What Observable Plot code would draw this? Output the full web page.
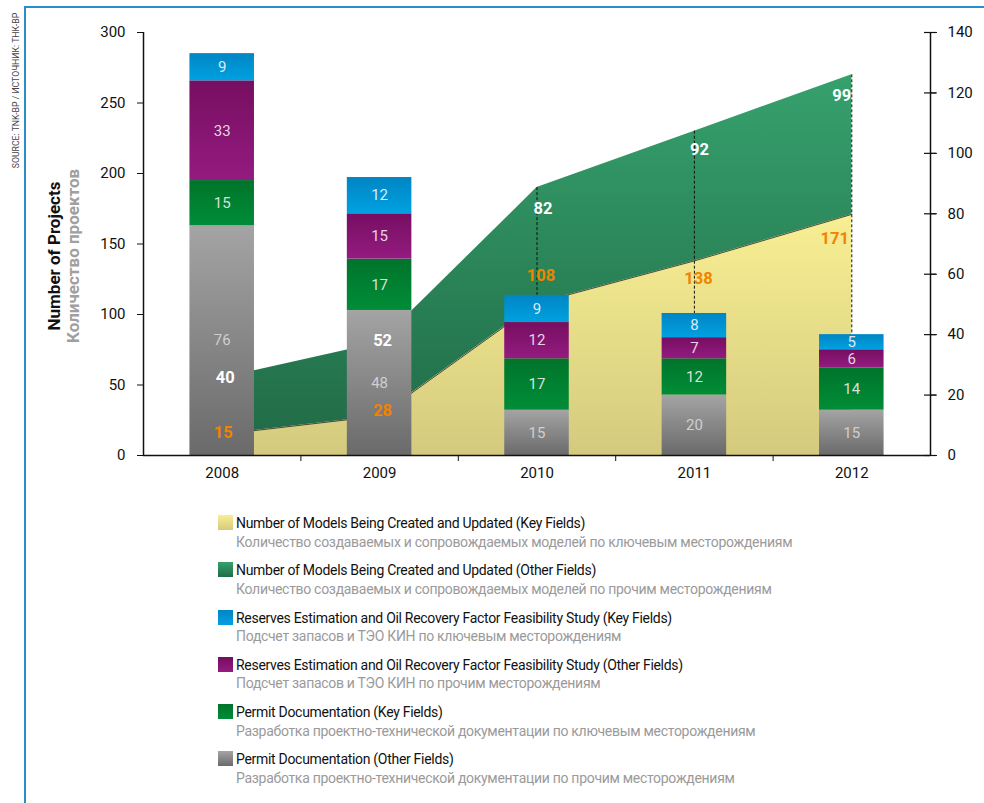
<!DOCTYPE html>
<html><head><meta charset="utf-8">
<script src="https://cdn.jsdelivr.net/npm/d3@7"></script>
<script src="https://cdn.jsdelivr.net/npm/@observablehq/plot@0.6"></script>
<style>
body{margin:0;background:#fff;font-family:Roboto,"Liberation Sans",sans-serif;}
#frame{position:absolute;left:24px;top:6px;right:0;bottom:0;border-left:2px solid #2a8ec8;border-top:2px solid #2a8ec8;}
#chart{position:absolute;left:0;top:0;}
#legend{position:absolute;left:218px;top:514px;}
.item{height:47.3px;position:relative;}
.sw{position:absolute;left:0;top:1px;width:15px;height:15px;}
.t1{position:absolute;left:18px;top:0;font-size:14px;letter-spacing:-0.3px;color:#111;line-height:18px;white-space:nowrap}
.t2{position:absolute;left:18px;top:18.5px;font-size:14px;letter-spacing:-0.3px;color:#9a9a9a;line-height:18px;white-space:nowrap}
</style></head>
<body>
<div id="frame"></div>
<div id="chart"></div>
<div id="legend"></div>
<script>
// ---- data ----
const years = [2008, 2009, 2010, 2011, 2012];
const permitOther   = [76, 48, 15, 20, 15];
const permitKey     = [15, 17, 17, 12, 14];
const reservesOther = [33, 15, 12, 7, 6];
const reservesKey   = [9, 12, 9, 8, 5];
const modelsKey     = [15, 28, 108, 138, 171];
const modelsOther   = [40, 52, 82, 92, 99];
const leftTicks  = [0, 50, 100, 150, 200, 250, 300];
const rightTicks = [0, 20, 40, 60, 80, 100, 120, 140];
const legendEn = [
  "Number of Models Being Created and Updated (Key Fields)",
  "Number of Models Being Created and Updated (Other Fields)",
  "Reserves Estimation and Oil Recovery Factor Feasibility Study (Key Fields)",
  "Reserves Estimation and Oil Recovery Factor Feasibility Study (Other Fields)",
  "Permit Documentation (Key Fields)",
  "Permit Documentation (Other Fields)"
];
const legendRu = [
  "Количество создаваемых и сопровождаемых моделей по ключевым месторождениям",
  "Количество создаваемых и сопровождаемых моделей по прочим месторождениям",
  "Подсчет запасов и ТЭО КИН по ключевым месторождениям",
  "Подсчет запасов и ТЭО КИН по прочим месторождениям",
  "Разработка проектно-технической документации по ключевым месторождениям",
  "Разработка проектно-технической документации по прочим месторождениям"
];
const yTitleEn = "Number of Projects";
const yTitleRu = "Количество проектов";
const sourceText = "SOURCE: TNK-BP / ИСТОЧНИК: ТНК-BP";

// ---- derived ----
const LEFT_MAX = 300, RIGHT_MAX = 140;
const K = LEFT_MAX / RIGHT_MAX; // right-axis units -> left-axis units
const FONT = 'Roboto,"Liberation Sans",sans-serif';
const barSeries = [
  {values: permitOther,   grad: "gGray",   text: "#cfcfcf"},
  {values: permitKey,     grad: "gGreen",  text: "#d8e0d8"},
  {values: reservesOther, grad: "gPurple", text: "#e4d4e2"},
  {values: reservesKey,   grad: "gBlue",   text: "#dcebf4"}
];
const stacked = barSeries.map(s => ({...s, rows: []}));
years.forEach((yr, i) => {
  let acc = 0;
  stacked.forEach(s => {
    const v = s.values[i];
    s.rows.push({year: yr, value: v, y1: acc * K, y2: (acc + v) * K});
    acc += v;
  });
});
const barTotals = years.map((yr, i) => barSeries.reduce((a, s) => a + s.values[i], 0));
const models = years.map((yr, i) => ({
  year: yr, key: modelsKey[i], other: modelsOther[i],
  total: modelsKey[i] + modelsOther[i], barTop: barTotals[i] * K
}));
const xDomain = [years[0] - 0.5, years[years.length - 1] + 0.5];
const mids = years.slice(0, -1).map(y => y + 0.5);
const half = 0.205;

// label nudges (pixels) for the area value labels
const greenNudge  = [[3, 0], [3, -2], [6, 21], [5, 19], [-10, 21]];
const yellowNudge = [[1, -2], [3, -5], [4, -28], [4, 18], [-17, 24]];

const marks = [
  Plot.areaY(models, {x: "year", y1: 0, y2: "key", fill: "url(#gYellow)"}),
  Plot.areaY(models, {x: "year", y1: "key", y2: "total", fill: "url(#gArea)"}),
  Plot.lineY(models, {x: "year", y: "key", stroke: "#222", strokeWidth: 0.8}),
  Plot.ruleX(models.filter(d => d.total > d.barTop), {x: "year", y1: "total", y2: "barTop", stroke: "#111", strokeWidth: 1, strokeDasharray: "3,2"}),
  ...stacked.map(s => Plot.rectY(s.rows, {x1: d => d.year - half, x2: d => d.year + half, y1: "y1", y2: "y2", fill: `url(#${s.grad})`})),
  ...stacked.map(s => Plot.text(s.rows, {x: "year", y: d => (d.y1 + d.y2) / 2, text: d => String(d.value), fill: s.text, fontSize: 15})),
  ...models.map((d, i) => Plot.text([d], {x: "year", y: "total", text: d => String(d.other), fill: "white", fontWeight: "bold", fontSize: 16.5, dx: greenNudge[i][0], dy: greenNudge[i][1]})),
  ...models.map((d, i) => Plot.text([d], {x: "year", y: "key", text: d => String(d.key), fill: "#f08300", fontWeight: "bold", fontSize: 16.5, dx: yellowNudge[i][0], dy: yellowNudge[i][1]})),
  // axes
  Plot.ruleY([0], {stroke: "#111", strokeWidth: 1.5}),
  Plot.ruleX(xDomain, {y1: 0, y2: LEFT_MAX, stroke: "#111", strokeWidth: 1.5}),
  Plot.axisY({anchor: "left", ticks: leftTicks, tickSize: 6, tickPadding: 12, fontSize: 15, label: null}),
  Plot.ruleY(rightTicks.map(t => t * K), {x1: xDomain[1], x2: xDomain[1], insetLeft: -6, insetRight: -6, stroke: "#111", strokeWidth: 1.2}),
  Plot.axisY({anchor: "right", ticks: rightTicks.map(t => t * K), tickSize: 6, tickPadding: 11, fontSize: 15, label: null, tickFormat: d => String(Math.round(d / K))}),
  Plot.axisX({anchor: "bottom", ticks: years, tickSize: 0, tickPadding: 12, fontSize: 15, label: null, tickFormat: d => String(d)}),
  Plot.axisX({anchor: "bottom", ticks: mids, tickSize: 6, label: null, tickFormat: () => ""}),
  // titles in the left margin
  Plot.text([yTitleEn], {frameAnchor: "left", text: d => d, rotate: -90, textAnchor: "middle", dx: -89, dy: 12, fontSize: 17, fontWeight: "bold", fill: "#111"}),
  Plot.text([yTitleRu], {frameAnchor: "left", text: d => d, rotate: -90, textAnchor: "middle", dx: -70, dy: 12, fontSize: 17, fontWeight: "bold", fill: "#a0a0a0"}),
  Plot.text([sourceText], {frameAnchor: "top-left", text: d => d, rotate: -90, textAnchor: "middle", dx: -131, dy: 58, fontSize: 8.7, fill: "#444"})
];

const chart = Plot.plot({
  width: 984, height: 490,
  marginLeft: 143, marginRight: 54, marginTop: 32, marginBottom: 35,
  x: {type: "linear", domain: xDomain, axis: null, label: null},
  y: {domain: [0, LEFT_MAX], axis: null, label: null},
  style: {fontFamily: FONT, fontSize: "15px", color: "#111", background: "transparent", overflow: "visible"},
  marks
});
document.getElementById("chart").appendChild(chart);

// gradients
const svg = d3.select(chart.tagName.toLowerCase() === "svg" ? chart : chart.querySelector("svg"));
const defs = svg.insert("defs", ":first-child");
const grads = {
  gGray:   ["#a4a4a4", "#6a6a6a"],
  gGreen:  ["#00742b", "#008d37"],
  gPurple: ["#760e61", "#941b80"],
  gBlue:   ["#0085c4", "#00a1e1"],
  gArea:   ["#36a16d", "#216c47"],
  gYellow: ["#f8ef93", "#d4ca7e"]
};
for (const [id, [c0, c1]] of Object.entries(grads)) {
  const g = defs.append("linearGradient").attr("id", id).attr("x1", 0).attr("y1", 0).attr("x2", 0).attr("y2", 1);
  g.append("stop").attr("offset", 0).attr("stop-color", c0);
  g.append("stop").attr("offset", 1).attr("stop-color", c1);
}

// legend
const legendGrads = ["gYellow", "gArea", "gBlue", "gPurple", "gGreen", "gGray"];
const legend = d3.select("#legend");
legendEn.forEach((t, i) => {
  const [c0, c1] = grads[legendGrads[i]];
  const item = legend.append("div").attr("class", "item");
  item.append("div").attr("class", "sw").style("background", `linear-gradient(${c0}, ${c1})`);
  item.append("div").attr("class", "t1").text(t);
  item.append("div").attr("class", "t2").text(legendRu[i]);
});
</script>
</body></html>
